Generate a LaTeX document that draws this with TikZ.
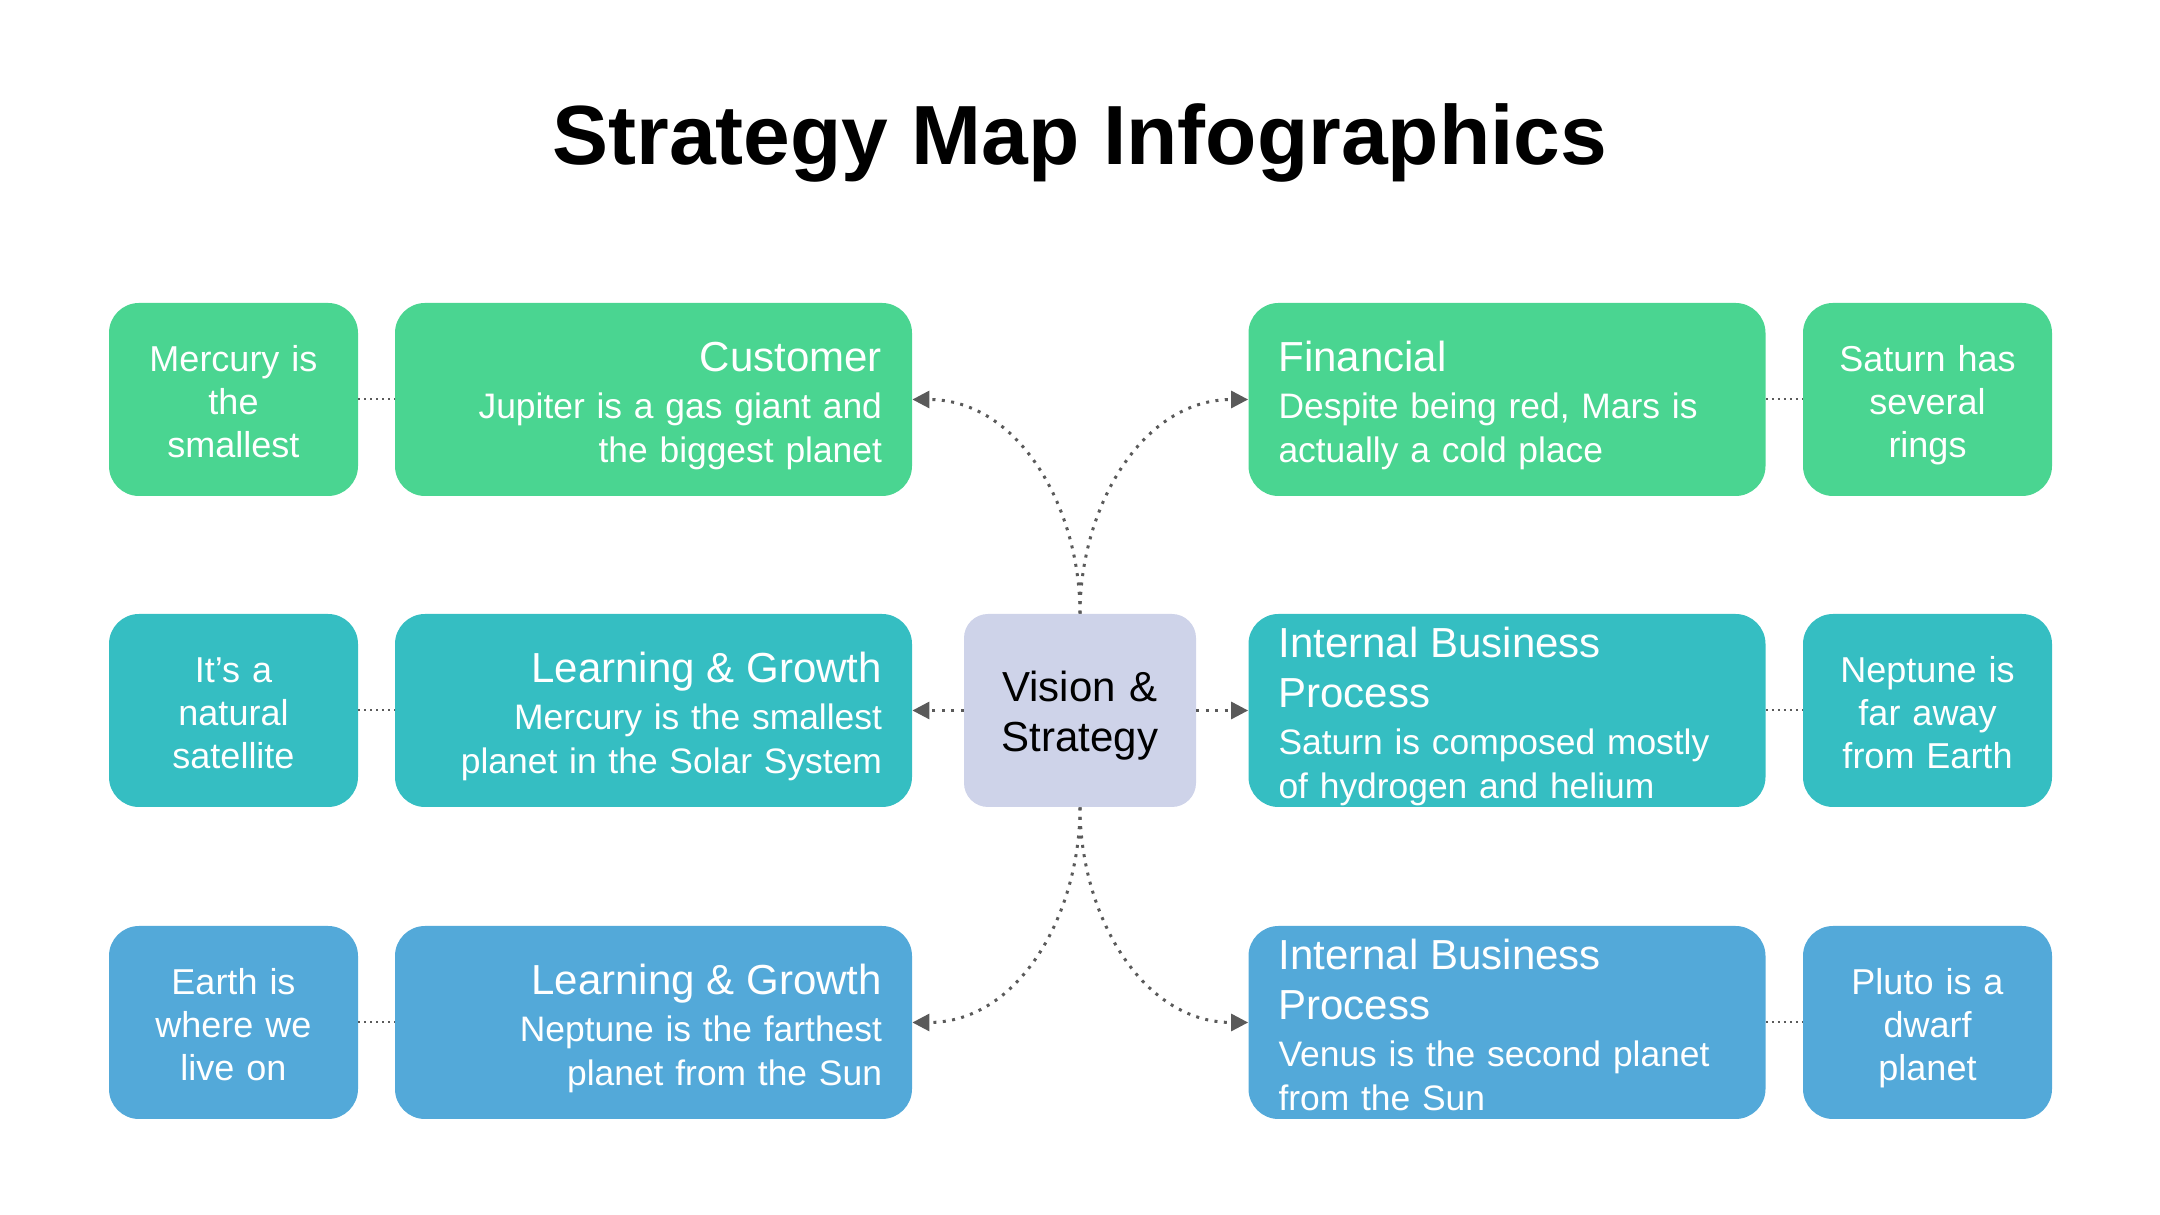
\documentclass[tikz,border=0pt]{standalone}
\usepackage{fontspec}
\setmainfont{Liberation Sans}
\usetikzlibrary{arrows.meta}

\definecolor{mapgreen}{RGB}{74,213,145}
\definecolor{mapteal}{RGB}{53,190,194}
\definecolor{mapblue}{RGB}{83,169,217}
\definecolor{maplavender}{RGB}{206,211,233}
\definecolor{mapgrey}{RGB}{90,90,90}

\newcommand{\cardhead}[1]{{\fontsize{21}{25}\selectfont #1\par}\vspace{1.5pt}}

\tikzset{
  card/.style={rounded corners=15pt, text=white, inner sep=0pt, minimum height=96.5pt},
  smallcard/.style={card, text width=124.5pt, align=center, font=\fontsize{18}{21.5}\selectfont,
    execute at begin node={\rule{0pt}{20pt}}, execute at end node={\rule[-5pt]{0pt}{5pt}}},
  bigcard/.style={card, text width=228.5pt, inner xsep=15pt, font=\fontsize{17.7}{22}\selectfont,
    execute at begin node={\rule{0pt}{21pt}}, execute at end node={\rule[-3pt]{0pt}{3pt}}},
  link/.style={mapgrey, line width=1.5pt, dash pattern=on 1.5pt off 3.2pt, -{Triangle[length=8.5pt,width=8.5pt]}},
  tie/.style={mapgrey, line width=1pt, dash pattern=on 1pt off 2pt}
}

\begin{document}
\begin{tikzpicture}[x=0.5pt,y=0.5pt]

  \useasboundingbox (0,0) rectangle (2160,1215);

  \node[anchor=base, font=\bfseries\fontsize{42}{50}\selectfont] (title) at (1080,1050) {Strategy Map Infographics};

  \node[card, fill=maplavender, text=black, text width=116pt, rounded corners=12pt, align=center, font=\fontsize{21}{25}\selectfont,
    execute at begin node={\rule{0pt}{21pt}}, execute at end node={\rule[-5pt]{0pt}{5pt}}] (vision) at (1080,504.5) {Vision \&\\Strategy};

  \node[smallcard, fill=mapgreen] (mercury) at (233.5,815.5) {Mercury is\\the\\smallest};
  \node[bigcard, fill=mapgreen, align=right] (customer) at (653.5,815.5) {\cardhead{Customer}Jupiter is a gas giant and\\the biggest planet};
  \node[bigcard, fill=mapgreen, align=left] (financial) at (1507,815.5) {\cardhead{Financial}Despite being red, Mars is\\actually a cold place};
  \node[smallcard, fill=mapgreen] (saturn) at (1927.5,815.5) {Saturn has\\several\\rings};

  \node[smallcard, fill=mapteal] (moon) at (233.5,504.5) {It’s a\\natural\\satellite};
  \node[bigcard, fill=mapteal, align=right] (growth) at (653.5,504.5) {\cardhead{Learning \& Growth}Mercury is the smallest\\planet in the Solar System};
  \node[bigcard, fill=mapteal, align=left] (process) at (1507,504.5) {\cardhead{Internal Business\\Process}Saturn is composed mostly\\of hydrogen and helium};
  \node[smallcard, fill=mapteal] (neptune) at (1927.5,504.5) {Neptune is\\far away\\from Earth};

  \node[smallcard, fill=mapblue] (earth) at (233.5,192.5) {Earth is\\where we\\live on};
  \node[bigcard, fill=mapblue, align=right] (growthb) at (653.5,192.5) {\cardhead{Learning \& Growth}Neptune is the farthest\\planet from the Sun};
  \node[bigcard, fill=mapblue, align=left] (processb) at (1507,192.5) {\cardhead{Internal Business\\Process}Venus is the second planet\\from the Sun};
  \node[smallcard, fill=mapblue] (pluto) at (1927.5,192.5) {Pluto is a\\dwarf\\planet};

  \draw[link] (vision.north) to[out=90,in=0] (customer.east);
  \draw[link] (vision.north) to[out=90,in=180] (financial.west);
  \draw[link] (vision.west) -- (growth.east);
  \draw[link] (vision.east) -- (process.west);
  \draw[link] (vision.south) to[out=-90,in=0] (growthb.east);
  \draw[link] (vision.south) to[out=-90,in=180] (processb.west);

  \draw[tie] (mercury.east) -- (customer.west);
  \draw[tie] (moon.east) -- (growth.west);
  \draw[tie] (earth.east) -- (growthb.west);
  \draw[tie] (financial.east) -- (saturn.west);
  \draw[tie] (process.east) -- (neptune.west);
  \draw[tie] (processb.east) -- (pluto.west);

\end{tikzpicture}
\end{document}
